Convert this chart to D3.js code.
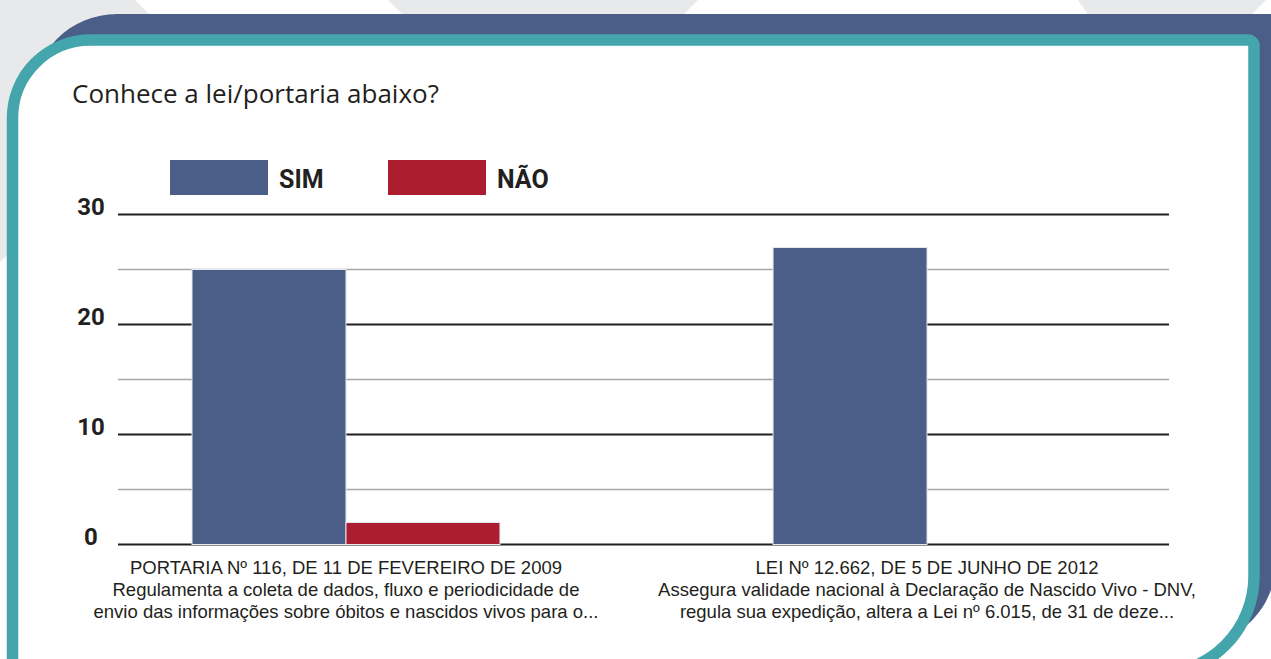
<!DOCTYPE html>
<html>
<head>
<meta charset="utf-8">
<script src="https://cdn.jsdelivr.net/npm/d3@7"></script>
<style>
  body { margin: 0; background: #fff; }
  svg { display: block; }
</style>
</head>
<body>
<script>
// data
const categories = ["PORTARIA Nº 116", "LEI Nº 12.662"];
const categoryLines = [
  ["PORTARIA Nº 116, DE 11 DE FEVEREIRO DE 2009",
   "Regulamenta a coleta de dados, fluxo e periodicidade de",
   "envio das informações sobre óbitos e nascidos vivos para o..."],
  ["LEI Nº 12.662, DE 5 DE JUNHO DE 2012",
   "Assegura validade nacional à Declaração de Nascido Vivo - DNV,",
   "regula sua expedição, altera a Lei nº 6.015, de 31 de deze..."]
];
const series = ["SIM", "NÃO"];
const simValues = [25, 27];
const naoValues = [2, 0];
const majorTicks = [0, 10, 20, 30];
const minorTicks = [5, 15, 25];
const title = "Conhece a lei/portaria abaixo?";

const colors = { "SIM": "#4a5e87", "NÃO": "#ac1d2f" };
const width = 1271, height = 659;
const font = "'Open Sans', Roboto, sans-serif";
const labelFont = "'Liberation Sans', Arial, sans-serif";
const boldFont = "Roboto, 'Noto Sans', sans-serif";

const svg = d3.select("body").append("svg")
  .attr("width", width)
  .attr("height", height);

// background decoration
const gray = "#e8e9eb";
const bgShapes = [
  [[0, 0], [135, 0], [197, 62], [0, 262]],
  [[388, 0], [698, 0], [640, 58], [446, 58]],
  [[1078, 0], [1266, 0], [1220, 46], [1110, 46]]
];
svg.append("g")
  .selectAll("path")
  .data(bgShapes)
  .join("path")
  .attr("d", (d) => "M" + d.join("L") + "Z")
  .attr("fill", gray);

function card(x, y, w, h, r) {
  // r = [top-left, top-right, bottom-right, bottom-left]
  return `M${x + r[0]},${y} H${x + w - r[1]} A${r[1]},${r[1]} 0 0 1 ${x + w},${y + r[1]}` +
    ` V${y + h - r[2]} A${r[2]},${r[2]} 0 0 1 ${x + w - r[2]},${y + h}` +
    ` H${x + r[3]} A${r[3]},${r[3]} 0 0 1 ${x},${y + h - r[3]}` +
    ` V${y + r[0]} A${r[0]},${r[0]} 0 0 1 ${x + r[0]},${y} Z`;
}

svg.append("path")
  .attr("d", card(32, 14, 1243, 629, [85, 0, 78, 0]))
  .attr("fill", "#4a5e87");

svg.append("path")
  .attr("d", card(12.5, 40, 1241.5, 634, [78, 6, 98, 0]))
  .attr("fill", "#fff")
  .attr("stroke", "#45a5ad")
  .attr("stroke-width", 11.5);

// title
svg.append("text")
  .attr("x", 72)
  .attr("y", 103)
  .attr("font-family", font)
  .attr("font-size", 26)
  .attr("fill", "#231f20")
  .text(title);

// scales
const left = 118, right = 1169;
const y = d3.scaleLinear().domain([0, 30]).range([544.5, 214.5]);
const x0 = d3.scaleBand().domain(categories).range([192, 1081]).paddingInner(0.47);
const x1 = d3.scaleBand().domain(series).range([0, x0.bandwidth()]);

// gridlines
svg.append("g")
  .selectAll("line")
  .data(minorTicks)
  .join("line")
  .attr("x1", left).attr("x2", right)
  .attr("y1", (d) => y(d)).attr("y2", (d) => y(d))
  .attr("stroke", "#a7a7ab")
  .attr("stroke-width", 1.6);

svg.append("g")
  .selectAll("line")
  .data(majorTicks)
  .join("line")
  .attr("x1", left).attr("x2", right)
  .attr("y1", (d) => y(d)).attr("y2", (d) => y(d))
  .attr("stroke", "#231f20")
  .attr("stroke-width", 2);

svg.append("g")
  .selectAll("text")
  .data(majorTicks)
  .join("text")
  .attr("x", 91)
  .attr("y", (d) => y(d) + 0.5)
  .attr("text-anchor", "middle")
  .attr("font-family", boldFont)
  .attr("font-weight", "bold")
  .attr("font-size", 24)
  .attr("fill", "#231f20")
  .text((d) => d);

// bars
const rows = categories.map((c, i) => ({
  cat: c,
  vals: [{ s: "SIM", v: simValues[i] }, { s: "NÃO", v: naoValues[i] }]
}));

svg.append("g")
  .selectAll("g")
  .data(rows)
  .join("g")
  .attr("transform", (d) => `translate(${x0(d.cat)},0)`)
  .selectAll("rect")
  .data((d) => d.vals.filter((e) => e.v > 0))
  .join("rect")
  .attr("x", (d) => x1(d.s))
  .attr("y", (d) => y(d.v))
  .attr("width", x1.bandwidth())
  .attr("height", (d) => y(0) - y(d.v))
  .attr("fill", (d) => colors[d.s])
  .attr("stroke", "#e4e7ee")
  .attr("stroke-width", 1);

// category labels
svg.append("g")
  .selectAll("text")
  .data(rows)
  .join("text")
  .attr("x", (d) => x0(d.cat) + x0.bandwidth() / 2)
  .attr("y", 574)
  .attr("text-anchor", "middle")
  .attr("font-family", labelFont)
  .attr("font-size", 18.5)
  .attr("fill", "#231f20")
  .selectAll("tspan")
  .data((d, i) => categoryLines[i])
  .join("tspan")
  .attr("x", function () { return this.parentNode.getAttribute("x"); })
  .attr("dy", (d, i) => (i === 0 ? 0 : 22))
  .text((d) => d);

// legend
const legend = svg.append("g")
  .selectAll("g")
  .data(series)
  .join("g")
  .attr("transform", (d, i) => `translate(${170 + i * 218},160)`);

legend.append("rect")
  .attr("width", 98)
  .attr("height", 35)
  .attr("fill", (d) => colors[d]);

legend.append("text")
  .attr("x", 109)
  .attr("y", 28)
  .attr("font-family", boldFont)
  .attr("font-weight", "bold")
  .attr("font-size", 25)
  .attr("fill", "#231f20")
  .text((d) => d);
</script>
</body>
</html>
